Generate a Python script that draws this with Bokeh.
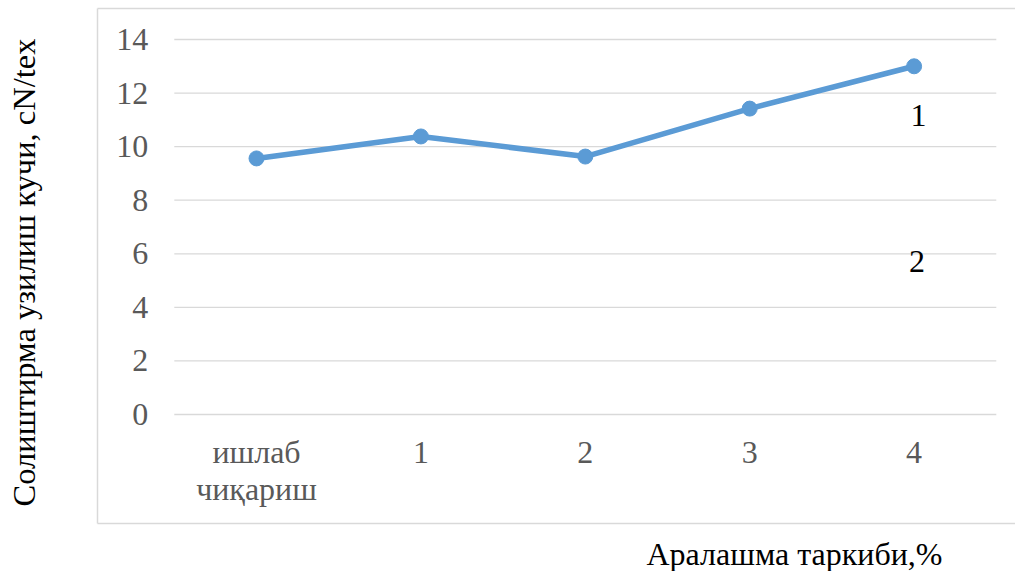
import math
from bokeh.plotting import figure
from bokeh.models import Label, FixedTicker, LinearAxis, ColumnDataSource, Range1d
from bokeh.embed import file_html
from bokeh.resources import INLINE

# ---- data ----
categories = ["ишлаб\nчиқариш", "1", "2", "3", "4"]
strength = [9.56, 10.38, 9.63, 11.42, 13.0]
y_ticks = [0, 2, 4, 6, 8, 10, 12, 14]
y_title = "Солиштирма узилиш кучи, cN/tex"
x_title = "Аралашма таркиби,%"
curve_labels = ["1", "2"]

FONT = "Liberation Serif"
W, H = 1015, 571

# ---- pixel layout helpers (plot area: index 0 at px 256, step 164.4; value 0 at px 414, 14 at px 39) ----
X0, DX = 256.0, 164.4
Y0, DY = 414.0, (414.0 - 39.0) / 14.0
def px_x(px):
    return (px - X0) / DX
def px_y(py):
    return (Y0 - py) / DY

x_idx = list(range(len(categories)))

p = figure(width=W, height=H,
           x_range=Range1d(px_x(0), px_x(W)), y_range=Range1d(px_y(H), px_y(0)),
           output_backend="svg", toolbar_location=None,
           min_border_left=0, min_border_right=0, min_border_top=0, min_border_bottom=0)
p.outline_line_color = None
p.background_fill_color = "white"
p.border_fill_color = "white"
p.grid.grid_line_color = None

def plain(ax):
    ax.axis_line_color = None
    ax.major_tick_line_color = None
    ax.minor_tick_line_color = None
    ax.major_tick_out = 0
    ax.major_tick_in = 0
    ax.minor_tick_out = 0
    ax.minor_tick_in = 0

# inner value axis (left of plot area)
ya = p.yaxis[0]
plain(ya)
ya.fixed_location = -0.5
ya.ticker = FixedTicker(ticks=y_ticks)
ya.major_label_text_font = FONT
ya.major_label_text_font_size = "32px"
ya.major_label_text_color = "#595959"
ya.major_label_standoff = 26

# inner category axis (at value 0)
xa = p.xaxis[0]
plain(xa)
xa.fixed_location = 0
xa.ticker = FixedTicker(ticks=x_idx)
xa.major_label_overrides = {i: c for i, c in zip(x_idx, categories)}
xa.major_label_text_font = FONT
xa.major_label_text_font_size = "32px"
xa.major_label_text_color = "#595959"
xa.major_label_text_line_height = 1.05
xa.major_label_standoff = 19

# gridlines across the plot area
p.segment(x0=[-0.5] * len(y_ticks), x1=[len(categories) - 0.5] * len(y_ticks),
          y0=y_ticks, y1=y_ticks, line_color="#d9d9d9", line_width=1.3)

# data series
src = ColumnDataSource(dict(x=x_idx, y=strength))
p.line("x", "y", source=src, line_color="#5b9bd5", line_width=5.5)
p.scatter("x", "y", source=src, size=15, fill_color="#5b9bd5", line_color="#5b9bd5")

# chart border drawn with axis lines
def border_axis(loc, bounds):
    ax = LinearAxis(fixed_location=loc, bounds=bounds, ticker=FixedTicker(ticks=[]))
    plain(ax)
    ax.axis_line_color = "#d9d9d9"
    ax.axis_line_width = 1.5
    ax.major_label_standoff = 0
    return ax

p.add_layout(border_axis(px_x(97), (px_y(523), px_y(8))), "left")
p.add_layout(border_axis(px_y(8), (px_x(97), px_x(W))), "above")
p.add_layout(border_axis(px_y(523), (px_x(97), px_x(W))), "below")

# curve number labels
for t, (lx, ly) in zip(curve_labels, [(918, 115), (916.5, 261)]):
    p.add_layout(Label(x=px_x(lx), y=px_y(ly), text=t, text_font=FONT, text_font_size="32px",
                       text_color="black", text_align="center", text_baseline="alphabetic"))

# axis titles
p.add_layout(Label(x=px_x(23), y=px_y(272), text=y_title, angle=math.pi / 2,
                   text_font=FONT, text_font_size="32.5px", text_color="black",
                   text_align="center", text_baseline="alphabetic"))
p.add_layout(Label(x=px_x(646), y=px_y(553), text=x_title,
                   text_font=FONT, text_font_size="32px", text_color="black",
                   text_align="left", text_baseline="alphabetic"))

open("out.html", "w").write(file_html(p, INLINE))
